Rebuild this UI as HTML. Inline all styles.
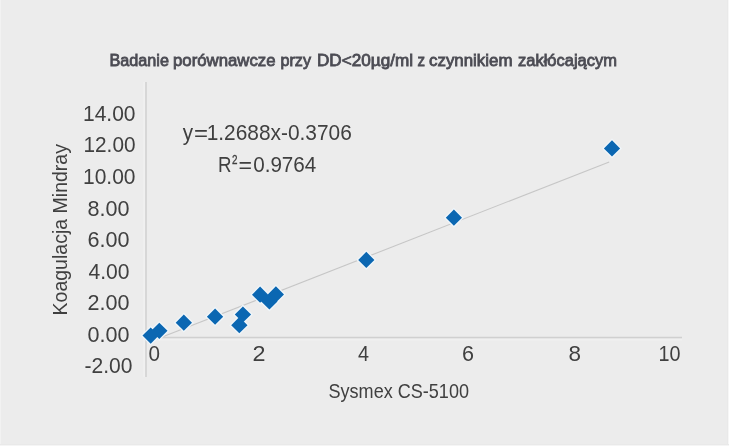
<!DOCTYPE html>
<html><head><meta charset="utf-8">
<style>
html,body{margin:0;padding:0;background:#ececec;}
body{width:729px;height:446px;overflow:hidden;position:relative;}
svg{position:absolute;left:0;top:0;}
text{font-family:"Liberation Sans",sans-serif;}
</style></head><body>
<svg width="729" height="446" viewBox="0 0 729 446">
<rect x="0" y="0" width="729" height="446" fill="#ececec"/>
<rect x="0" y="0" width="1" height="446" fill="#f2f2f2"/><rect x="727" y="0" width="1" height="446" fill="#e9e9e9"/><rect x="728" y="0" width="1" height="446" fill="#f7f7f7"/><rect x="0" y="444" width="729" height="1" fill="#e9e9e9"/><rect x="0" y="445" width="729" height="1" fill="#f5f5f5"/><rect x="143.5" y="82" width="1.3" height="295" fill="#f1f1f1"/><rect x="147" y="339" width="535" height="1.5" fill="#f0f0f0"/>
<line x1="146" y1="82" x2="146" y2="377" stroke="#d0d0d0" stroke-width="1.5"/>
<line x1="146" y1="337.5" x2="682" y2="337.5" stroke="#d0d0d0" stroke-width="1.5"/>
<line x1="157" y1="339.1" x2="609.2" y2="161.9" stroke="#c6c6c6" stroke-width="1.1"/>
<g fill="#f0f6fa">
<path d="M150.7 325.7L160.7 335.6L150.7 345.6L140.7 335.6Z M159.3 320.9L169.3 330.8L159.3 340.8L149.3 330.8Z M183.8 312.8L193.8 322.7L183.8 332.6L173.8 322.7Z M215.1 306.8L225.1 316.7L215.1 326.6L205.1 316.7Z M239.3 315.2L249.3 325.2L239.3 335.1L229.3 325.2Z M242.9 304.6L252.9 314.5L242.9 324.4L232.9 314.5Z M260.1 284.8L270.1 294.7L260.1 304.6L250.2 294.7Z M269.4 291.6L279.3 301.5L269.4 311.4L259.4 301.5Z M275.9 284.4L285.8 294.4L275.9 304.3L265.9 294.4Z M366.3 250.0L376.2 260.0L366.3 269.9L356.4 260.0Z M453.9 207.7L463.8 217.7L453.9 227.7L443.9 217.7Z M612.0 138.4L621.9 148.4L612.0 158.4L602.1 148.4Z"/>
</g>
<g fill="#0b67b2">
<path d="M150.7 327.5L158.8 335.6L150.7 343.8L142.5 335.6Z M159.3 322.7L167.5 330.8L159.3 338.9L151.2 330.8Z M183.8 314.6L192.0 322.7L183.8 330.8L175.7 322.7Z M215.1 308.6L223.2 316.7L215.1 324.8L206.9 316.7Z M239.3 317.1L247.5 325.2L239.3 333.3L231.2 325.2Z M242.9 306.4L251.1 314.5L242.9 322.6L234.8 314.5Z M260.1 286.6L268.2 294.7L260.1 302.8L252.0 294.7Z M269.4 293.4L277.5 301.5L269.4 309.6L261.2 301.5Z M275.9 286.2L284.0 294.4L275.9 302.5L267.8 294.4Z M366.3 251.8L374.4 260.0L366.3 268.1L358.2 260.0Z M453.9 209.5L462.0 217.7L453.9 225.8L445.8 217.7Z M612.0 140.2L620.1 148.4L612.0 156.6L603.9 148.4Z"/>
</g>
<g style="filter:brightness(1)">
<text id="t0" font-size="16.5" fill="#4c4c54" stroke="#4c4c54" stroke-width="0.8" x="109.50" y="65.60" textLength="59.50" lengthAdjust="spacingAndGlyphs">Badanie</text>
<text id="t1" font-size="16.5" fill="#4c4c54" stroke="#4c4c54" stroke-width="0.8" x="173.00" y="65.60" textLength="102.50" lengthAdjust="spacingAndGlyphs">porównawcze</text>
<text id="t2" font-size="16.5" fill="#4c4c54" stroke="#4c4c54" stroke-width="0.8" x="280.50" y="65.60" textLength="30.50" lengthAdjust="spacingAndGlyphs">przy</text>
<text id="t3" font-size="16.5" fill="#4c4c54" stroke="#4c4c54" stroke-width="0.8" x="317.00" y="65.60" textLength="96.00" lengthAdjust="spacingAndGlyphs">DD&lt;20µg/ml</text>
<text id="t4" font-size="16.5" fill="#4c4c54" stroke="#4c4c54" stroke-width="0.8" x="417.50" y="65.60" textLength="7.50" lengthAdjust="spacingAndGlyphs">z</text>
<text id="t5" font-size="16.5" fill="#4c4c54" stroke="#4c4c54" stroke-width="0.8" x="429.00" y="65.60" textLength="83.50" lengthAdjust="spacingAndGlyphs">czynnikiem</text>
<text id="t6" font-size="16.5" fill="#4c4c54" stroke="#4c4c54" stroke-width="0.8" x="518.00" y="65.60" textLength="99.00" lengthAdjust="spacingAndGlyphs">zakłócającym</text>
<text id="y0" font-size="22.5" fill="#404040" x="83.00" y="120.80" textLength="52.50" lengthAdjust="spacingAndGlyphs">14.00</text>
<text id="y1" font-size="22.5" fill="#404040" x="83.50" y="152.37" textLength="52.00" lengthAdjust="spacingAndGlyphs">12.00</text>
<text id="y2" font-size="22.5" fill="#404040" x="83.00" y="183.95" textLength="52.50" lengthAdjust="spacingAndGlyphs">10.00</text>
<text id="y3" font-size="22.5" fill="#404040" x="87.50" y="215.52" textLength="42.00" lengthAdjust="spacingAndGlyphs">8.00</text>
<text id="y4" font-size="22.5" fill="#404040" x="87.50" y="247.10" textLength="42.00" lengthAdjust="spacingAndGlyphs">6.00</text>
<text id="y5" font-size="22.5" fill="#404040" x="88.50" y="278.68" textLength="41.00" lengthAdjust="spacingAndGlyphs">4.00</text>
<text id="y6" font-size="22.5" fill="#404040" x="87.50" y="310.25" textLength="42.00" lengthAdjust="spacingAndGlyphs">2.00</text>
<text id="y7" font-size="22.5" fill="#404040" x="87.50" y="341.82" textLength="42.00" lengthAdjust="spacingAndGlyphs">0.00</text>
<text id="y8" font-size="22.5" fill="#404040" x="84.50" y="373.40" textLength="48.00" lengthAdjust="spacingAndGlyphs">-2.00</text>
<text id="x0" font-size="22.5" fill="#404040" x="148.50" y="361.00" textLength="11.50" lengthAdjust="spacingAndGlyphs">0</text>
<text id="x1" font-size="22.5" fill="#404040" x="252.50" y="361.00" textLength="13.00" lengthAdjust="spacingAndGlyphs">2</text>
<text id="x2" font-size="22.5" fill="#404040" x="358.00" y="361.00" textLength="11.00" lengthAdjust="spacingAndGlyphs">4</text>
<text id="x3" font-size="22.5" fill="#404040" x="462.00" y="361.00" textLength="12.00" lengthAdjust="spacingAndGlyphs">6</text>
<text id="x4" font-size="22.5" fill="#404040" x="568.50" y="361.00" textLength="12.50" lengthAdjust="spacingAndGlyphs">8</text>
<text id="x5" font-size="22.5" fill="#404040" x="658.50" y="361.00" textLength="22.00" lengthAdjust="spacingAndGlyphs">10</text>
<text id="eq1a" font-size="22.5" fill="#404040" x="182.70" y="140.20" textLength="10.30" lengthAdjust="spacingAndGlyphs">y</text>
<text id="eq1b" font-size="22.5" fill="#404040" x="193.90" y="141.20" textLength="14.00" lengthAdjust="spacingAndGlyphs">=</text>
<text id="eq1c" font-size="22.5" fill="#404040" x="206.70" y="140.20" textLength="145.10" lengthAdjust="spacingAndGlyphs">1.2688x-0.3706</text>
<text id="eqR" font-size="22.5" fill="#404040" x="218.00" y="171.80" textLength="13.50" lengthAdjust="spacingAndGlyphs">R</text>
<text id="eq2" font-size="13" fill="#404040" stroke="#404040" stroke-width="0.35" x="232.00" y="164.40" textLength="5.50" lengthAdjust="spacingAndGlyphs">2</text>
<text id="eq3a" font-size="22.5" fill="#404040" x="238.40" y="172.80" textLength="13.50" lengthAdjust="spacingAndGlyphs">=</text>
<text id="eq3b" font-size="22.5" fill="#404040" x="253.20" y="171.80" textLength="63.10" lengthAdjust="spacingAndGlyphs">0.9764</text>
<text id="xt" font-size="21" fill="#404040" x="328.50" y="397.80" textLength="140.50" lengthAdjust="spacingAndGlyphs">Sysmex CS-5100</text>
<text id="yt" font-size="20.2" fill="#404040" transform="translate(67.40,315.50) rotate(-90)" x="0" y="0" textLength="171.50" lengthAdjust="spacingAndGlyphs">Koagulacja Mindray</text>
</g>
</svg>
</body></html>
